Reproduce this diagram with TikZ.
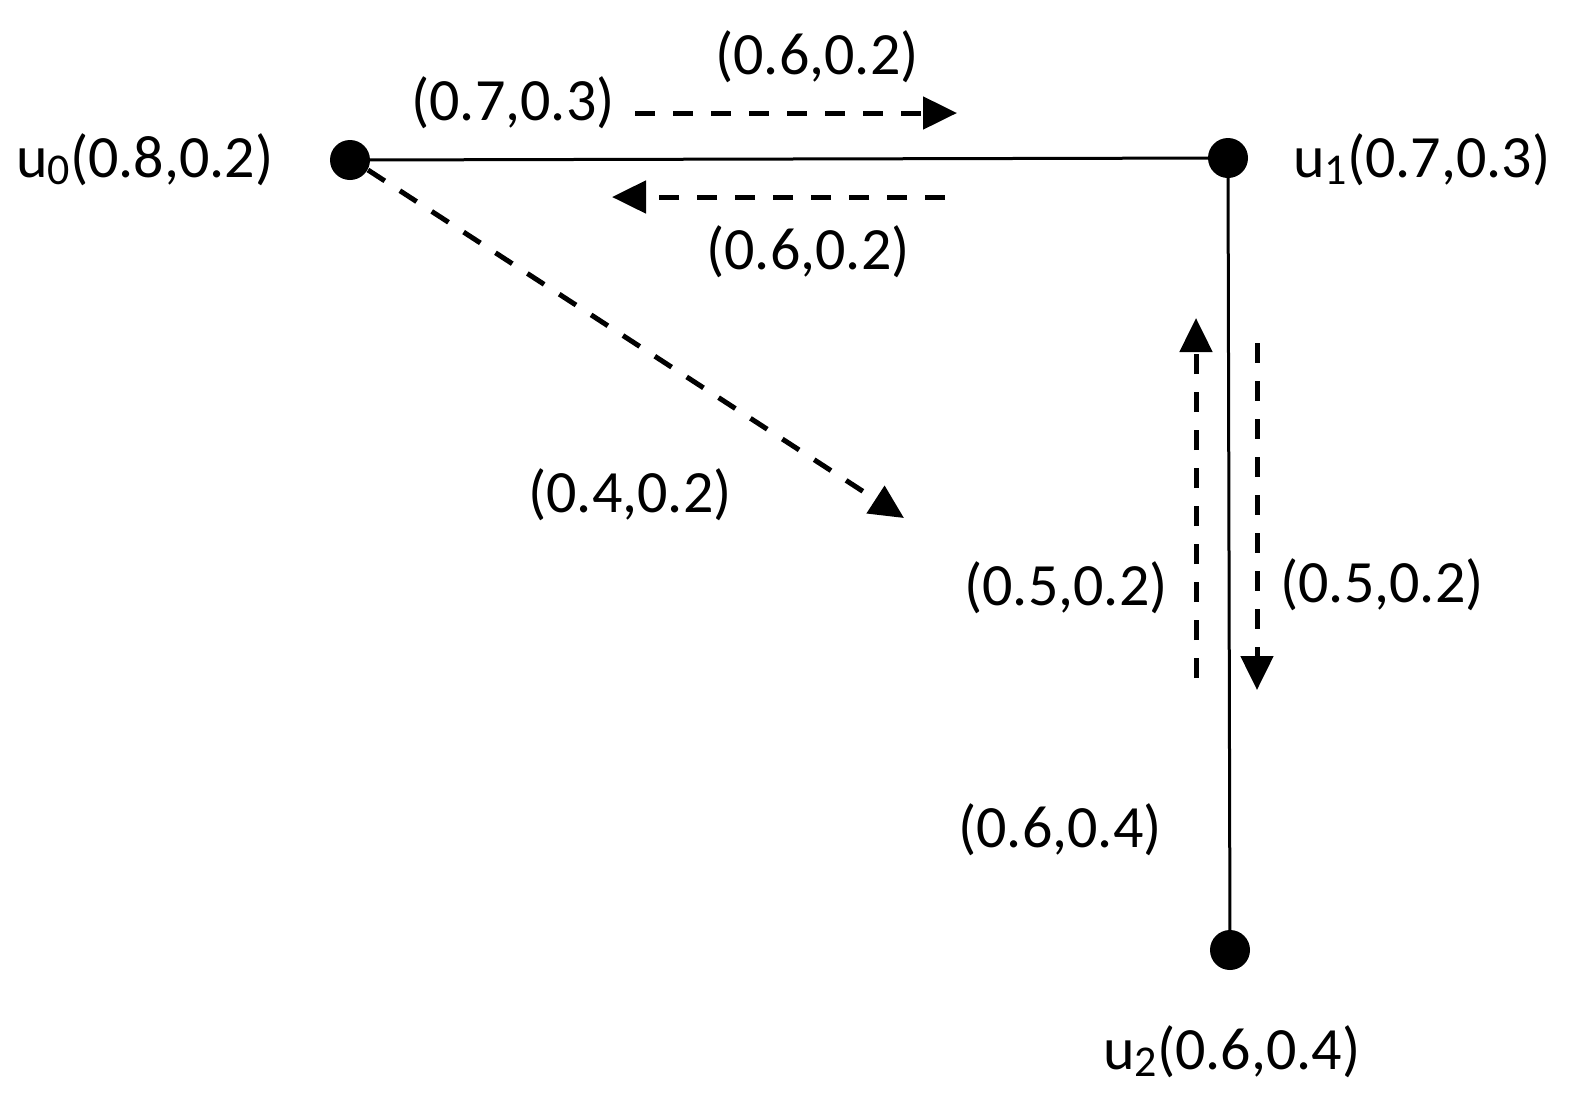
\documentclass[tikz,border=0pt]{standalone}
\usepackage{fontspec}
\setmainfont{Carlito}
\usetikzlibrary{arrows.meta}
\newcommand{\subidx}[1]{\raisebox{-0.12em}{\fontsize{22}{26}\selectfont #1}}
\begin{document}
\begin{tikzpicture}[x=0.5pt,y=-0.5pt,
  vtx/.style={circle,fill=black,inner sep=0pt,minimum size=20pt},
  lbl/.style={font=\fontsize{30}{36}\selectfont,inner sep=0pt},
  edge/.style={line width=1.5pt},
  flow/.style={line width=2.5pt,dash pattern=on 10pt off 9pt,-{Triangle[length=17pt,width=16pt]}}]
\useasboundingbox (0,0) rectangle (1571,1105);
\node[vtx] (u0) at (350,160) {};
\node[vtx] (u1) at (1228,158) {};
\node[vtx] (u2) at (1230,950) {};
\draw[edge] (u0.center) -- (u1.center);
\draw[edge] (u1.center) -- (u2.center);
\node[lbl] (l0) at (145,160) {u\subidx{0}(0.8,0.2)};
\node[lbl] (l1) at (1422,160) {u\subidx{1}(0.7,0.3)};
\node[lbl] (l2) at (1232,1052) {u\subidx{2}(0.6,0.4)};
\node[lbl] (a1) at (513,103) {(0.7,0.3)};
\node[lbl] (a2) at (817,57) {(0.6,0.2)};
\node[lbl] (a3) at (808,252) {(0.6,0.2)};
\node[lbl] (a4) at (630,495) {(0.4,0.2)};
\node[lbl] (a5) at (1066,588) {(0.5,0.2)};
\node[lbl] (a6) at (1382,585) {(0.5,0.2)};
\node[lbl] (a7) at (1060,830) {(0.6,0.4)};
\coordinate (r1s) at (635,113); \coordinate (r1e) at (957,113);
\coordinate (r2s) at (945,197); \coordinate (r2e) at (612,197);
\coordinate (r3s) at (368,170); \coordinate (r3e) at (904,518);
\coordinate (r4s) at (1196,678); \coordinate (r4e) at (1196,318);
\coordinate (r5s) at (1257,343); \coordinate (r5e) at (1257,690);
\draw[flow] (r1s) -- (r1e);
\draw[flow] (r2s) -- (r2e);
\draw[flow] (r3s) -- (r3e);
\draw[flow] (r4s) -- (r4e);
\draw[flow] (r5s) -- (r5e);
\end{tikzpicture}
\end{document}
